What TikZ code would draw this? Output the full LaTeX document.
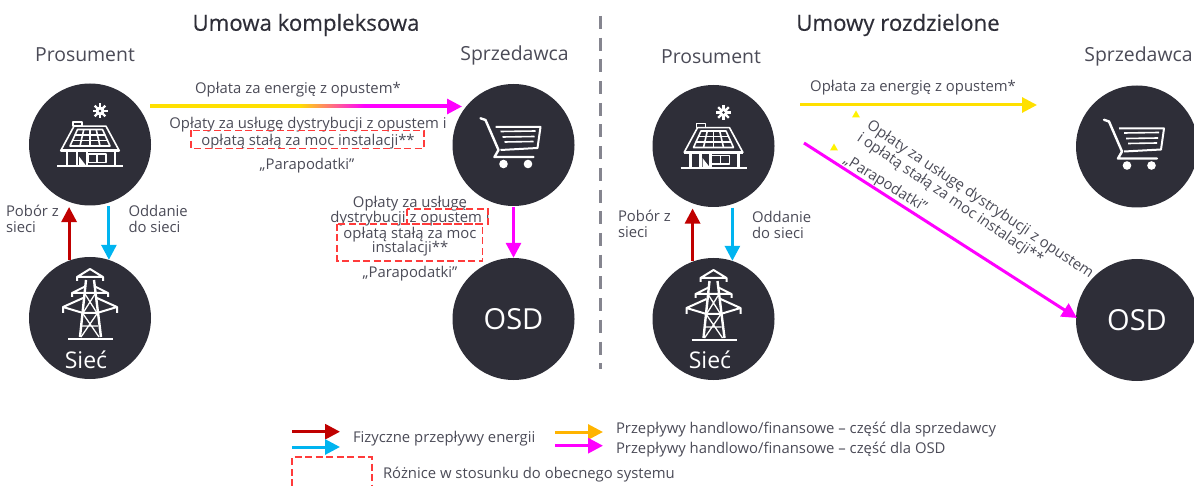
\documentclass[tikz,border=0pt]{standalone}
\usepackage{fontspec}
\setmainfont{Open Sans}
\newfontfamily\titlefont[FakeBold=0.35]{Open Sans}
\usetikzlibrary{arrows.meta}
\usetikzlibrary{calc}

\definecolor{eydark}{HTML}{2E2E38}
\definecolor{eytext}{HTML}{4B4B57}
\definecolor{eygrey}{HTML}{85858F}
\definecolor{eyred}{HTML}{C00000}
\definecolor{eyblue}{HTML}{00B4F0}
\definecolor{eyyellow}{HTML}{FFE000}
\definecolor{eyorange}{HTML}{FFB400}
\definecolor{eypink}{HTML}{FF00FF}
\definecolor{eydash}{HTML}{FF3B3B}

\pgfdeclarehorizontalshading{yelpink}{100bp}{color(0bp)=(eyyellow); color(50bp)=(eyyellow); color(61bp)=(eypink); color(100bp)=(eypink)}

\tikzset{
  hub/.style={circle, fill=eydark, minimum size=122pt, inner sep=0pt, text=white},
  flow/.style={line width=3pt, -{Triangle[length=15pt,width=15pt]}},
  txt/.style={text=eytext, font=\fontsize{14.85}{16}\selectfont, inner sep=0pt, outer sep=0pt, yshift=-2pt},
  head/.style={text=eytext, font=\fontsize{19.4}{21}\selectfont, inner sep=0pt, yshift=-1.5pt},
  title/.style={text=eydark, font=\titlefont\fontsize{22.2}{24}\selectfont, inner sep=0pt, yshift=-2pt},
  diff/.style={draw=eydash, line width=1.5pt, dash pattern=on 7pt off 3.5pt},
  icon/.style={draw=white, line width=1.6pt, y=1pt, line join=round},
  pics/house/.style={code={
    \draw[icon] (-16,18.3) -- (16,18.3) -- (29.3,-6.3) -- (-29.3,-6.3) -- cycle;
    \draw[icon] (-17,18.3) rectangle (-8,22.5);
    \draw[icon] (-12.5,15) -- (12.5,15) -- (20,-1.5) -- (-20,-1.5) -- cycle;
    \draw[icon] (-15,9.5) -- (15,9.5) (-17.5,4) -- (17.5,4);
    \foreach \k in {-1,0,1} {
      \draw[icon] (\k*6.2,15) -- (\k*10,-1.5);
    }
    \draw[icon, line width=2.6pt] (-29.3,-6.3) -- (29.3,-6.3);
    \draw[icon, line width=1.8pt] (-33,-21.7) -- (33,-21.7);
    \draw[icon, line width=2.2pt] (-23,-7) -- (-23,-21) (-13,-7) -- (-13,-21) (-3,-7) -- (-3,-21) (25,-7) -- (25,-21);
    \draw[icon] (-2,-9.5) rectangle (16,-18) (7,-9.5) -- (7,-18);
    \fill[white, y=1pt] (-11,-12) -- (-4,-21) -- (-11,-21) -- cycle;
    \foreach \k in {0,45,...,135} {
      \draw[icon, line width=2.2pt] ($(10,33.5)+(\k:7.5)$) -- ($(10,33.5)+(\k+180:7.5)$);
    }
    \fill[white, y=1pt] (10,33.5) circle (4.5);
    \fill[eydark, y=1pt] (10,33.5) circle (1.4);
  }},
  pics/cart/.style={code={
    \draw[icon, line width=2.4pt, line cap=round] (-33,26.7) -- (-28,25) -- (-15,-5) -- (-19,-12) -- (20,-12);
    \draw[icon, line width=2pt] (-18,18) -- (27,18) -- (24,-3) -- (-13,-5);
    \draw[icon] (-13,13.5) -- (22,14) (-11,8) -- (21,8.5) (-9,3) -- (20,3.5);
    \fill[white, y=1pt] (-10,-19) circle (4.3);
    \fill[white, y=1pt] (14.5,-19) circle (4.3);
  }},
  pics/tower/.style={code={
    \draw[icon, line width=1.8pt] (-22,-21.3) -- (23,-21.3);
    \draw[icon, line width=2.4pt] (-10,-19) -- (-4,38) (11,-19) -- (4,38);
    \draw[icon, line width=2pt] (-13,37) -- (-13,41) -- (0,49) -- (13,41) -- (13,37) (-13,41) -- (13,41);
    \draw[icon, line width=2pt] (-18,21) -- (-18,25) -- (-4,32) (18,21) -- (18,25) -- (4,32) (-18,25) -- (18,25);
    \draw[icon, line width=2pt] (-27,5) -- (-27,11) -- (-7,20) (27,5) -- (27,11) -- (7,20) (-27,11) -- (-7,5) (27,11) -- (7,5) (-7,5) -- (7,5);
    \draw[icon, line width=1.3pt] (-9,-19) -- (7.5,5) (9,-19) -- (-7.5,5) (-7,5) -- (5,24) (7,5) -- (-5,24) (-8,-8) -- (8,-8);
  }},
}

\begin{document}
\begin{tikzpicture}[x=1pt,y=-1pt]
\useasboundingbox (0,0) rectangle (1194,486);

% hubs
\node[hub] (pros1) at ( 90,144.5) {};
\node[hub] (sprz1) at (513.5,145) {};
\node[hub] (siec1) at ( 90,318) {};
\node[hub, font=\fontsize{29}{31}\selectfont] (osd1) at (513.5,319) {OSD};
\node[hub] (pros2) at (713.5,146) {};
\node[hub] (sprz2) at (1137,146.5) {};
\node[hub] (siec2) at (713.5,319) {};
\node[hub, font=\fontsize{29}{31}\selectfont] (osd2) at (1137,320) {OSD};

% icons
\pic at (pros1) {house};
\pic at (pros2) {house};
\pic at (sprz1) {cart};
\pic at (sprz2) {cart};
\pic at (siec1) {tower};
\pic at (siec2) {tower};
\node[text=white, font=\fontsize{23}{25}\selectfont, inner sep=0pt] (sieclab1) at (86,360) {Sieć};
\node[text=white, font=\fontsize{23}{25}\selectfont, inner sep=0pt] (sieclab2) at (710,360) {Sieć};

% titles
\node[title] (umowa1) at (306,23) {Umowa kompleksowa};
\node[title] (umowa2) at (898,23) {Umowy rozdzielone};
\node[head] (proslab1) at (85,53) {Prosument};
\node[head] (sprzlab1) at (514.5,54) {Sprzedawca};
\node[head] (proslab2) at (711,55) {Prosument};
\node[head] (sprzlab2) at (1138.5,55) {Sprzedawca};

% divider
\coordinate (divtop) at (600.7,16);
\coordinate (divbot) at (600.7,369);
\draw[eygrey, line width=3pt, dash pattern=on 13pt off 8.7pt] (divtop) -- (divbot);

% physical flows
\draw[flow, eyred, shorten >=5pt] (siec1.110) -- (pros1.-110);
\draw[flow, eyblue, shorten <=3.5pt] (pros1.-72) -- (siec1.72);
\draw[flow, eyred, shorten >=5pt] (siec2.110) -- (pros2.-110);
\draw[flow, eyblue, shorten <=3.5pt] (pros2.-72) -- (siec2.72);

% money flows, left
\coordinate (payS) at (150,106.5);
\coordinate (payE) at (462,106.5);
\draw[flow, eypink] (payS) -- (payE);
\shade[shading=yelpink] (150,105) rectangle (448,108);
\draw[flow, eypink, shorten <=1pt] (sprz1.south) -- (osd1.north);

% money flows, right
\coordinate (pay2S) at (800,105);
\coordinate (pay2E) at (1037,105);
\coordinate (dist2S) at (804,143);
\coordinate (dist2E) at (1077,318);
\draw[flow, eyyellow] (pay2S) -- (pay2E);
\draw[flow, eypink] (dist2S) -- (dist2E);
\fill[yellow] (856,110.5) -- (860,117.5) -- (852,117.5) -- cycle;
\fill[yellow] (834,143.5) -- (838,150.5) -- (830,150.5) -- cycle;

% labels, left
\begin{scope}[every node/.style={txt}]
\node (pay1) at (298,88) {Opłata za energię z opustem*};
\node (dist1a) at (308,123) {Opłaty za usługę dystrybucji z opustem i};
\node (dist1b) at (308,140) {opłatą stałą za moc instalacji**};
\node (tax1) at (307,164) {„Parapodatki”};
\node (dist1c) at (410,202) {Opłaty za usługę};
\node (dist1d) at (410,217) {dystrybucji z opustem i};
\node (dist1e) at (410,232.5) {opłatą stałą za moc};
\node (dist1f) at (410,247) {instalacji**};
\node (tax1b) at (410,271.5) {„Parapodatki”};
\node[anchor=west, align=left] (pob1) at (6,217) {Pobór z\\sieci};
\node[anchor=west, align=left] (odd1) at (128.5,216.5) {Oddanie\\do sieci};
\end{scope}

% labels, right
\begin{scope}[every node/.style={txt}]
\node (pay2) at (913,86) {Opłata za energię z opustem*};
\node[rotate=-34] (dist2a) at (980,198) {Opłaty za usługę dystrybucji z opustem};
\node[rotate=-34] (dist2b) at (950,197) {i opłatą stałą za moc instalacji**};
\node[rotate=-32] (tax2) at (885,182) {„Parapodatki”};
\node[anchor=west, align=left] (pob2) at (618,222) {Pobór z\\sieci};
\node[anchor=west, align=left] (odd2) at (752,223) {Oddanie\\do sieci};
\end{scope}

% differences
\draw[diff] (191,130.5) rectangle (424,148.5);
\draw[diff] (407,209) rectangle (488,224);
\draw[diff] (337,224) rectangle (482.7,261);

% legend
\coordinate (lgA) at (292,431.7);
\coordinate (lgB) at (340,431.7);
\coordinate (lgC) at (292,447);
\coordinate (lgD) at (340,447);
\coordinate (lgE) at (555,432);
\coordinate (lgF) at (603,432);
\coordinate (lgG) at (555,445.7);
\coordinate (lgH) at (603,445.7);
\draw[flow, eyred] (lgA) -- (lgB);
\draw[flow, eyblue] (lgC) -- (lgD);
\draw[flow, eyorange] (lgE) -- (lgF);
\draw[flow, eypink] (lgG) -- (lgH);
\draw[diff] (292,486) -- (292,457) -- (372,457) -- (372,486);

\begin{scope}[every node/.style={txt, anchor=west}]
\node (lg1) at (353,437) {Fizyczne przepływy energii};
\node (lg2) at (616,428) {Przepływy handlowo/finansowe – część dla sprzedawcy};
\node (lg3) at (616,448) {Przepływy handlowo/finansowe – część dla OSD};
\node (lg4) at (383,473) {Różnice w stosunku do obecnego systemu};
\end{scope}

\end{tikzpicture}
\end{document}
